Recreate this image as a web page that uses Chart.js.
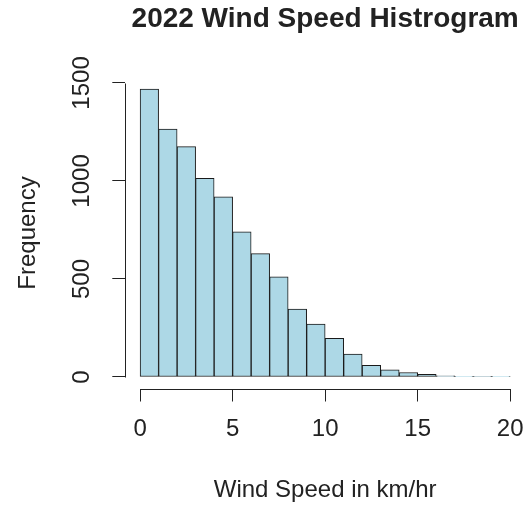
<!DOCTYPE html>
<html>
<head>
<meta charset="utf-8">
<title>2022 Wind Speed Histrogram</title>
<script src="https://cdn.jsdelivr.net/npm/chart.js@4"></script>
<style>
  html, body { margin: 0; padding: 0; background: #fff; }
</style>
</head>
<body>
<canvas id="chart" width="525" height="505"></canvas>
<script>
// wind speed bins (km/hr), each one unit wide, and how many readings fell in each
const binStart = [0, 1, 2, 3, 4, 5, 6, 7, 8, 9, 10, 11, 12, 13, 14, 15, 16, 17, 18, 19];
const binWidth = 1;
const counts = [1469, 1265, 1175, 1014, 919, 741, 629, 511, 347, 270, 197, 117, 59, 36, 23, 14, 6, 3, 2, 1];

const xTicks = [0, 5, 10, 15, 20];
const yTicks = [0, 500, 1000, 1500];

const fontFamily = '"Liberation Sans", Arial, Helvetica, sans-serif';
const ink = '#222';

// R pads both axis ranges by 4% on each side
const xSpan = xTicks[xTicks.length - 1] - xTicks[0];
const yMaxCount = Math.max(...counts);

const bars = binStart.map((b, i) => ({ x: b + binWidth / 2, y: counts[i] }));

// axis lines only run from the first to the last tick, like base R graphics
const axisLines = {
    id: 'axisLines',
    afterDraw(chart) {
        const { ctx, chartArea, scales } = chart;
        const px = v => Math.round(v) + 0.5;
        ctx.save();
        ctx.strokeStyle = ink;
        ctx.lineWidth = 1;
        ctx.beginPath();
        ctx.moveTo(px(scales.x.getPixelForValue(xTicks[0])), px(chartArea.bottom));
        ctx.lineTo(px(scales.x.getPixelForValue(xTicks[xTicks.length - 1])), px(chartArea.bottom));
        ctx.moveTo(px(chartArea.left), px(scales.y.getPixelForValue(yTicks[0])));
        ctx.lineTo(px(chartArea.left), px(scales.y.getPixelForValue(yTicks[yTicks.length - 1])));
        ctx.stroke();
        ctx.restore();
    }
};

new Chart(document.getElementById('chart'), {
    type: 'bar',
    data: {
        datasets: [{
            data: bars,
            backgroundColor: '#ADD8E6',
            borderColor: '#1a1a1a',
            borderWidth: 1,
            borderSkipped: false,
            barPercentage: 1,
            categoryPercentage: 1
        }]
    },
    options: {
        responsive: false,
        animation: false,
        devicePixelRatio: 1,
        layout: { padding: 0 },
        plugins: {
            legend: { display: false },
            tooltip: { enabled: false },
            title: {
                display: true,
                text: '2022 Wind Speed Histrogram',
                fullSize: false,
                color: ink,
                font: { family: fontFamily, size: 28, weight: 'bold' },
                padding: { top: 2.6, bottom: 41.3 }
            }
        },
        scales: {
            x: {
                type: 'linear',
                offset: false,
                min: xTicks[0] - 0.04 * xSpan,
                max: xTicks[xTicks.length - 1] + 0.04 * xSpan,
                afterBuildTicks: s => { s.ticks = xTicks.map(v => ({ value: v })); },
                afterFit: s => {
                    s.height = 116.5;
                    s.paddingLeft = 0;
                    s.paddingRight = 0;
                },
                border: { display: false },
                grid: {
                    display: true,
                    drawOnChartArea: false,
                    drawTicks: true,
                    tickLength: 13,
                    color: ink,
                    tickColor: ink,
                    offset: false
                },
                ticks: {
                    color: ink,
                    font: { family: fontFamily, size: 24 },
                    padding: 13,
                    maxRotation: 0,
                    autoSkip: false,
                    callback: v => String(v)
                },
                title: {
                    display: true,
                    text: 'Wind Speed in km/hr',
                    color: ink,
                    font: { family: fontFamily, size: 24 },
                    padding: { top: 0, bottom: 0 }
                }
            },
            y: {
                type: 'linear',
                min: -0.04 * yMaxCount,
                max: 1.04 * yMaxCount,
                afterBuildTicks: s => { s.ticks = yTicks.map(v => ({ value: v })); },
                afterFit: s => {
                    s.width = 125.3;
                    s.paddingTop = 0;
                    s.paddingBottom = 0;
                },
                border: { display: false },
                grid: {
                    display: true,
                    drawOnChartArea: false,
                    drawTicks: true,
                    tickLength: 13,
                    color: ink,
                    tickColor: ink
                },
                ticks: {
                    color: ink,
                    font: { family: fontFamily, size: 24 },
                    padding: 3,
                    minRotation: 90,
                    maxRotation: 90,
                    crossAlign: 'center',
                    autoSkip: false,
                    callback: v => String(v)
                },
                title: {
                    display: true,
                    text: 'Frequency',
                    color: ink,
                    font: { family: fontFamily, size: 24 },
                    padding: { top: 13.6, bottom: 0 }
                }
            }
        }
    },
    plugins: [axisLines]
});
</script>
</body>
</html>
